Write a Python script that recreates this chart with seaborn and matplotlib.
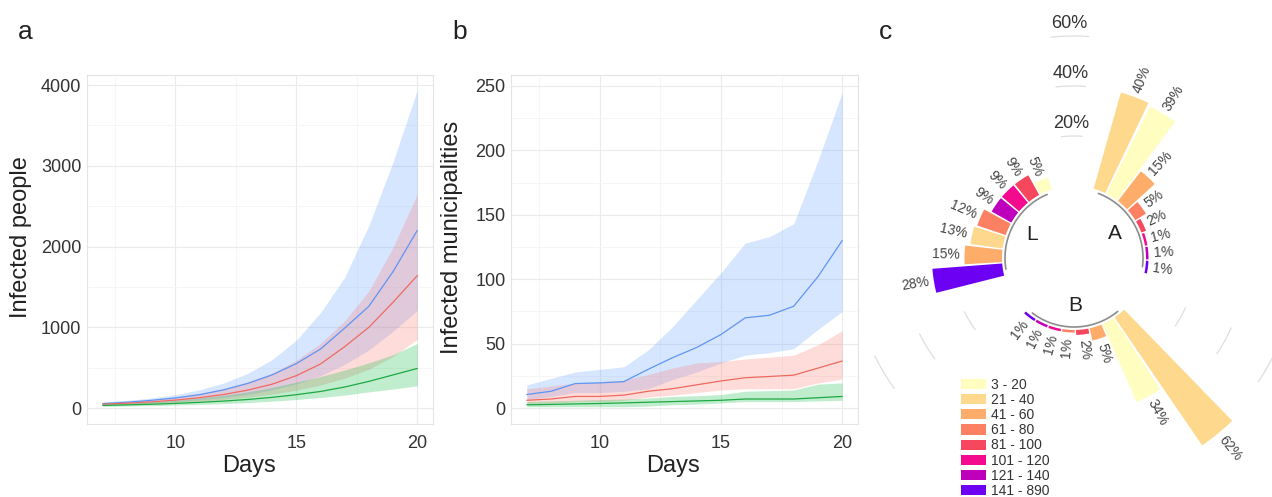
import numpy as np
import pandas as pd
import seaborn as sns
import matplotlib.pyplot as plt
from matplotlib.patches import Patch
from matplotlib.ticker import MultipleLocator

# ---- data -------------------------------------------------------------
days = [7, 8, 9, 10, 11, 12, 13, 14, 15, 16, 17, 18, 19, 20]
scenarios = ['blue', 'red', 'green']

# panel a: infected people (median and band)
a_mid = {
    'blue': [55, 72, 95, 125, 165, 225, 305, 410, 550, 730, 990, 1260, 1690, 2200],
    'red': [48, 60, 76, 98, 128, 168, 222, 295, 400, 545, 760, 1000, 1310, 1640],
    'green': [32, 39, 47, 57, 70, 86, 106, 132, 165, 205, 260, 330, 410, 490],
}
a_hi = {
    'blue': [75, 95, 125, 165, 225, 310, 430, 600, 840, 1180, 1620, 2260, 3050, 3940],
    'red': [62, 80, 105, 138, 182, 242, 325, 435, 590, 800, 1080, 1450, 1990, 2650],
    'green': [48, 60, 76, 97, 124, 158, 200, 255, 320, 390, 470, 560, 660, 800],
}
a_lo = {
    'blue': [40, 50, 62, 80, 102, 130, 170, 225, 300, 400, 540, 720, 950, 1210],
    'red': [34, 42, 52, 66, 84, 106, 135, 172, 220, 285, 370, 480, 640, 850],
    'green': [21, 25, 30, 37, 45, 55, 68, 85, 105, 130, 160, 200, 235, 275],
}

# panel b: infected municipalities
b_mid = {
    'blue': [10.5, 13, 19, 19.5, 20.5, 30, 39, 47, 57, 70, 72, 79, 102, 130],
    'red': [6, 7, 9, 9, 10, 13, 15, 18, 21, 23.5, 24.5, 25.5, 31, 36.5],
    'green': [2.5, 2.8, 3.2, 3.5, 4, 4.5, 5, 5.5, 6, 7, 7, 7, 8, 9],
}
b_hi = {
    'blue': [18, 23, 28, 30, 32, 45, 63, 84, 105, 128, 133, 143, 192, 245],
    'red': [15, 17, 19.5, 20.5, 21.5, 26, 31, 35, 36, 38, 39.5, 41, 49, 60],
    'green': [5, 5.5, 6, 6.5, 7, 7.7, 9, 9.5, 10.5, 13, 13.5, 14, 18.5, 19.5],
}
b_lo = {
    'blue': [6.5, 9, 12, 12, 13, 15, 22, 28, 35, 41, 43, 46, 61, 75],
    'red': [3.5, 4, 5, 5, 6, 8.5, 10, 12, 14, 15, 15, 15, 19.5, 22.5],
    'green': [1, 1, 1, 1, 1, 1.5, 2.5, 3, 4, 5, 5, 5, 5.5, 6],
}

# panel c: share of municipalities per population class
classes = ['3 - 20', '21 - 40', '41 - 60', '61 - 80', '81 - 100',
           '101 - 120', '121 - 140', '141 - 890']
class_colors = ['#FFFDBF', '#FED88C', '#FDAD69', '#FC8162', '#F6475F',
                '#F40A8E', '#BE00BC', '#6B00F2']
A_vals = [40, 39, 15, 5, 2, 1, 1, 1]
A_cls = ['21 - 40', '3 - 20', '41 - 60', '61 - 80', '81 - 100', '101 - 120', '121 - 140', '141 - 890']
B_vals = [62, 34, 5, 2, 1, 1, 1, 1]
B_cls = ['21 - 40', '3 - 20', '41 - 60', '81 - 100', '61 - 80', '101 - 120', '121 - 140', '141 - 890']
L_vals = [28, 15, 13, 12, 9, 9, 9, 5]
L_cls = ['141 - 890', '41 - 60', '21 - 40', '61 - 80', '121 - 140', '101 - 120', '81 - 100', '3 - 20']
grid_pct = [20, 40, 60]

# ---- style ------------------------------------------------------------
sns.set_theme(style='whitegrid')
plt.rcParams['font.family'] = ['Liberation Sans', 'DejaVu Sans']
LINE_COLORS = {'blue': '#5F95F5', 'red': '#EE6A60', 'green': '#1FA843'}
BAND_COLORS = {'blue': '#619CFF', 'red': '#F8766D', 'green': '#00BA38'}
TEXT = '#333333'

W, H = 1272, 497
fig = plt.figure(figsize=(W / 100, H / 100), dpi=100)


def px_box(left, top, right, bottom):
    return [left / W, 1 - bottom / H, (right - left) / W, (bottom - top) / H]


def draw_panel(ax, mid, lo, hi, ylim, ymaj, ylabel, ylab_x):
    for s in scenarios:
        ax.fill_between(days, lo[s], hi[s], color=BAND_COLORS[s], alpha=0.25, lw=0)
    df = pd.DataFrame([(d, s, v) for s in scenarios for d, v in zip(days, mid[s])],
                      columns=['day', 'scenario', 'value'])
    sns.lineplot(data=df, x='day', y='value', hue='scenario', palette=LINE_COLORS,
                 hue_order=scenarios, lw=0.9, legend=False, ax=ax)
    ax.set_xlim(6.35, 20.65)
    ax.set_ylim(*ylim)
    ax.xaxis.set_major_locator(MultipleLocator(5))
    ax.xaxis.set_minor_locator(MultipleLocator(2.5))
    ax.yaxis.set_major_locator(MultipleLocator(ymaj))
    ax.yaxis.set_minor_locator(MultipleLocator(ymaj / 2))
    ax.grid(which='major', color='#ebebeb', lw=0.8)
    ax.grid(which='minor', color='#f5f5f5', lw=0.6)
    for sp in ax.spines.values():
        sp.set_visible(True)
        sp.set_color('#e4e4e4')
        sp.set_linewidth(0.8)
    ax.tick_params(axis='both', which='both', length=0, labelsize=13, labelcolor=TEXT)
    ax.tick_params(axis='x', pad=8)
    ax.tick_params(axis='y', pad=4)
    ax.set_xlabel('Days', fontsize=17, color='#222222')
    ax.set_ylabel(ylabel, fontsize=17, color='#222222')
    ax.xaxis.set_label_coords(0.468, -0.088)
    ax.yaxis.set_label_coords(ylab_x, 0.536)
    ax.set_axisbelow(True)


ax_a = fig.add_axes(px_box(87, 75, 433, 424))
draw_panel(ax_a, a_mid, a_lo, a_hi, (-198, 4125), 1000, 'Infected people', -0.159)
ax_b = fig.add_axes(px_box(511, 75, 858, 424))
draw_panel(ax_b, b_mid, b_lo, b_hi, (-12.4, 258.5), 50, 'Infected municipalities', -0.138)

# ---- panel c: circular bar chart --------------------------------------
cx, cy, R = 1074, 258, 237
pax = fig.add_axes(px_box(cx - R, cy - R, cx + R, cy + R), projection='polar')
pax.set_theta_zero_location('N')
pax.set_theta_direction(-1)
pax.set_ylim(-28.8, 66)
pax.axis('off')

STEP = 2 * np.pi / 33
cmap = dict(zip(classes, class_colors))


def slot_theta(s):
    return (np.asarray(s, dtype=float) + 1.9) * STEP


groups = [('A', A_vals, A_cls, 0), ('B', B_vals, B_cls, 11), ('L', L_vals, L_cls, 22)]
for name, vals, cls, start in groups:
    th = slot_theta(np.arange(start, start + 8))
    pax.bar(th, vals, width=STEP * 0.9, bottom=0,
            color=[cmap[c] for c in cls], lw=0)
    for t, v in zip(th, vals):
        deg = np.degrees(t) % 360
        if deg < 180:
            rot, ha = 90 - deg, 'left'
        else:
            rot, ha = 270 - deg, 'right'
        pax.text(t, v + 2, f'{v}%', rotation=rot, rotation_mode='anchor',
                 ha=ha, va='center', fontsize=10, color='#444444')
    arc = np.linspace(th[0], th[-1], 80)
    pax.plot(arc, np.full_like(arc, -1.2), color='#8c8c8c', lw=1.2)
    pax.text(slot_theta(start + 3.5), -9.6, name, ha='center', va='center',
             fontsize=15, color='#222222')

for g in (9, 20, 31):
    t0 = slot_theta(g)
    arc = np.linspace(t0 - STEP * 0.45, t0 + STEP * 0.45, 30)
    for v in grid_pct:
        pax.plot(arc, np.full_like(arc, v), color='#dedede', lw=0.9)
for v in grid_pct:
    pax.text(slot_theta(31), v + 5, f'{v}%', ha='center', va='center',
             fontsize=13, color=TEXT)

handles = [Patch(facecolor=c, edgecolor='none') for c in class_colors]
leg = fig.legend(handles, classes, loc='upper left', bbox_to_anchor=(961 / W, 1 - 378 / H),
                 frameon=False, fontsize=10, handlelength=1.8, handleheight=0.75,
                 handletextpad=0.35, labelspacing=0.08, borderpad=0, borderaxespad=0)
for t in leg.get_texts():
    t.set_color(TEXT)

# panel letters
for x, lab in ((18, 'a'), (452, 'b'), (879, 'c')):
    fig.text(x / W, 1 - 39 / H, lab, fontsize=19, color='#222222', va='baseline')

fig.savefig('out.png', dpi=100)
